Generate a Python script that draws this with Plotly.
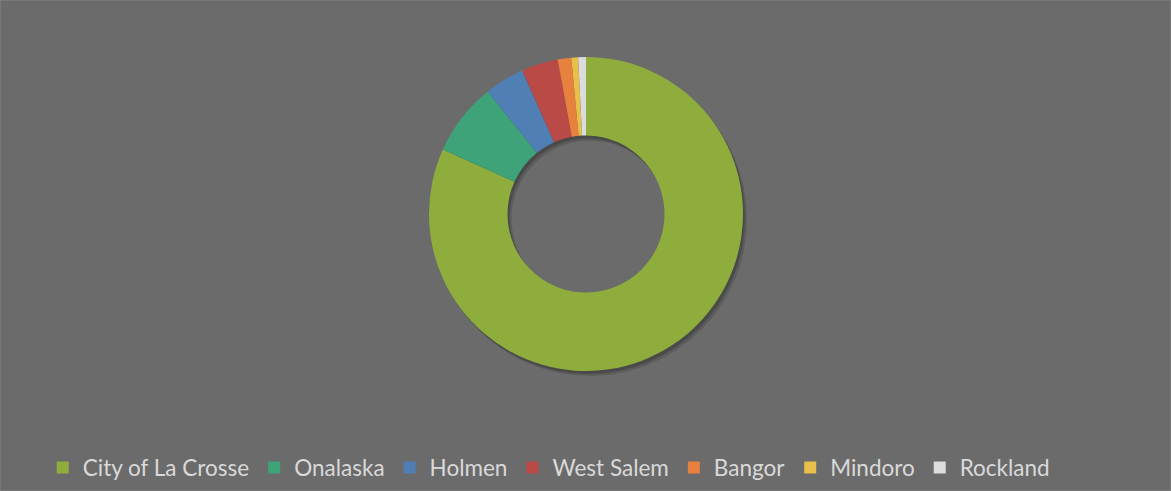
import plotly.graph_objects as go

categories = ["City of La Crosse", "Onalaska", "Holmen", "West Salem", "Bangor", "Mindoro", "Rockland"]
values = [81.7, 7.5, 4.1, 3.75, 1.4, 0.7, 0.8]
colors = ["#8fad3c", "#3fa37a", "#4f7fb5", "#b94a45", "#e8803e", "#e8bf48", "#dcdcdc"]

W, H = 1171, 491
cx, cy, r = 586, 214, 157

def dom(cx, cy, r):
    return dict(x=[(cx - r) / W, (cx + r) / W], y=[(H - cy - r) / H, (H - cy + r) / H])

fig = go.Figure()
# soft shadow layers
for dx, dy, a in [(4, 5, 0.18), (2, 3, 0.28)]:
    fig.add_trace(go.Pie(values=[1], labels=["shadow"], hole=0.5, sort=False,
                         domain=dom(cx + dx, cy + dy, r),
                         marker=dict(colors=[f"rgba(30,30,30,{a})"], line=dict(width=0)),
                         textinfo="none", hoverinfo="skip", showlegend=False))
fig.add_trace(go.Pie(labels=categories, values=values, hole=0.5, sort=False,
                     direction="clockwise", rotation=0,
                     domain=dom(cx, cy, r),
                     marker=dict(colors=colors, line=dict(color="rgba(0,0,0,0)", width=0)),
                     textinfo="none"))

fig.update_layout(
    width=W, height=H,
    paper_bgcolor="#6b6b6b", plot_bgcolor="#6b6b6b",
    margin=dict(l=0, r=0, t=0, b=0),
    showlegend=True,
    legend=dict(orientation="h", x=0.4686, xanchor="center", y=0.047, yanchor="middle",
                font=dict(family="Lato, Open Sans, sans-serif", size=22.5, color="#d9d9d9"),
                itemsizing="constant", traceorder="normal", itemwidth=30,
                bgcolor="rgba(0,0,0,0)"),
    shapes=[dict(type="rect", xref="paper", yref="paper", x0=0, y0=0, x1=1, y1=1,
                 line=dict(color="#858585", width=1))],
)
fig.write_html("out.html", config={"displayModeBar": False},
               post_script="document.body.style.margin='0';document.body.style.padding='0';")
